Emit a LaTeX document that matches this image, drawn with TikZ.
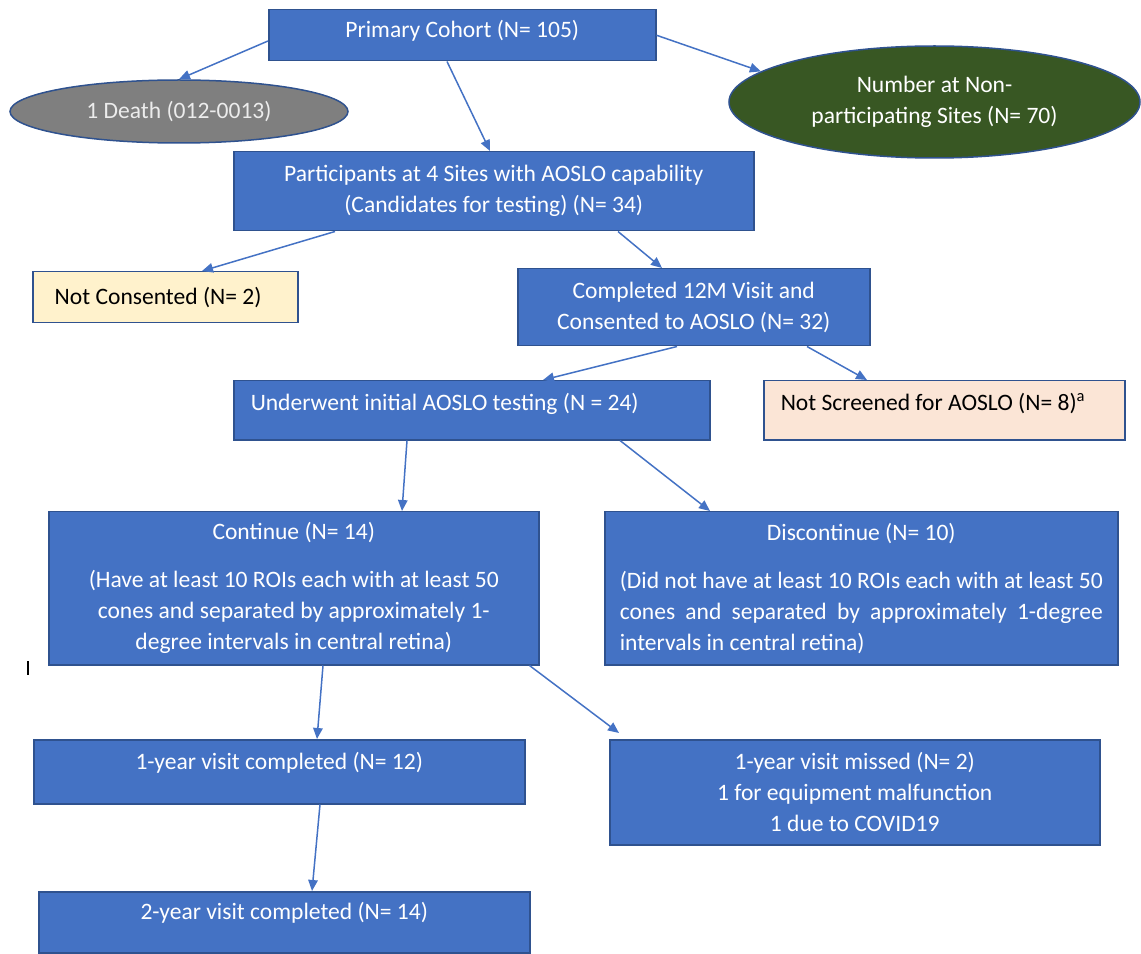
\documentclass[tikz,border=0pt]{standalone}
\usepackage{fontspec}
\setmainfont{Carlito}
\usepackage{xcolor}
\usetikzlibrary{arrows.meta,positioning,calc,shapes.geometric}
\definecolor{boxblue}{HTML}{4472C4}
\definecolor{edgeblue}{HTML}{2F528F}
\definecolor{deathgray}{HTML}{7F7F7F}
\definecolor{sitegreen}{HTML}{385723}
\definecolor{consyellow}{HTML}{FFF2CC}
\definecolor{scrpeach}{HTML}{FBE5D6}

\begin{document}
\begin{tikzpicture}[x=0.2mm,y=-0.2mm,
  font=\fontsize{13.4}{17.6}\selectfont,
  box/.style={draw=edgeblue,fill=boxblue,text=white,line width=0.3mm,align=center,
              anchor=north west,inner sep=0pt},
  note/.style={draw=edgeblue,line width=0.3mm,anchor=north west,align=flush left,
               inner sep=0pt,inner xsep=3.4mm},
  blob/.style={ellipse,draw=edgeblue,line width=0.3mm,text=white,align=center,inner sep=0pt},
  lifted/.style={text depth=#1},
  ar/.style={-{Triangle[length=2.2mm,width=1.9mm]},boxblue,line width=0.3mm}]
\useasboundingbox (0,0) rectangle (1141,954);
% top row
\node[box,lifted=7.8pt,minimum width=77.4mm,minimum height=10.2mm] (prim) at (268,9)
  {Primary Cohort (N= 105)};
\node[blob,fill=deathgray,text=gray!15,minimum width=67.6mm,minimum height=12.6mm] (death)
  at (179,111.5) {1 Death (012-0013)};
\node[blob,fill=sitegreen,minimum width=82.2mm,minimum height=22.4mm] (nonp)
  at (934.5,102) {Number at Non-\\participating Sites (N= 70)};
% screening
\node[box,minimum width=104mm,minimum height=15.8mm] (part) at (233,151)
  {Participants at 4 Sites with AOSLO capability\\(Candidates for testing) (N= 34)};
\node[note,fill=consyellow,inner xsep=4.4mm,text width=44.2mm,minimum height=10.2mm] (ncons)
  at (32,271) {Not Consented (N= 2)};
\node[box,align=flush left,lifted=10pt,inner xsep=3.4mm,text width=88.4mm,minimum height=11.8mm] (under)
  at (233,380) {Underwent initial AOSLO testing (N = 24)};
\node[box,minimum width=70.4mm,minimum height=15.4mm] (compl) at (517,268)
  {Completed 12M Visit and\\Consented to AOSLO (N= 32)};
\node[note,fill=scrpeach,lifted=9pt,text width=65.4mm,minimum height=11.8mm] (nscr)
  at (763,380) {Not Screened for AOSLO (N= 8)\textsuperscript{a}};
% outcome of testing
\node[box,minimum width=98mm,minimum height=30.6mm] (cont) at (48,511)
  {Continue (N= 14)\\[9.7pt](Have at least 10 ROIs each with at least 50\\
   cones and separated by approximately 1-\\degree intervals in central retina)};
\node[box,align=justify,inner xsep=3mm,text width=96.6mm,minimum height=30.6mm] (disc)
  at (604,511) {{\centering Discontinue (N= 10)\par}\vskip9.7pt\noindent
   (Did not have at least 10 ROIs each with at least 50\linebreak
   cones and separated by approximately 1-degree\linebreak
   intervals in central retina)};
% follow-up
\node[box,lifted=11.8pt,minimum width=98.2mm,minimum height=12.8mm] (yr1) at (33,739)
  {1-year visit completed (N= 12)};
\node[box,minimum width=98mm,minimum height=21mm] (miss) at (609,739)
  {1-year visit missed (N= 2)\\1 for equipment malfunction\\1 due to COVID19};
\node[box,lifted=13.5pt,minimum width=98.2mm,minimum height=12.2mm] (yr2) at (38,891)
  {2-year visit completed (N= 14)};
% connectors
\draw[ar] ($(prim.north west)+(0,32)$) -- (death.north);
\draw[ar] ($(prim.south west)+(179,0)$) -- ($(part.north west)+(257,0)$);
\draw[ar] (prim.east) -- (nonp.170);
\draw[ar] ($(part.south west)+(102,0)$) -- ($(ncons.north west)+(170,0)$);
\draw[ar] ($(part.south west)+(385,0)$) -- ($(compl.north west)+(145,0)$);
\draw[ar] ($(compl.south west)+(160,0)$) -- ($(under.north west)+(310,0)$);
\draw[ar] ($(compl.south west)+(290,0)$) -- ($(nscr.north west)+(104,0)$);
\draw[ar] ($(under.south west)+(174,0)$) -- ($(cont.north west)+(354,0)$);
\draw[ar] ($(under.south west)+(387,0)$) -- ($(disc.north west)+(106,0)$);
\draw[ar] ($(cont.south west)+(275,0)$) -- ($(yr1.north west)+(284,0)$);
\draw[ar] ($(cont.south east)+(-10,0)$) -- ($(miss.north west)+(10,-6)$);
\draw[ar] ($(yr1.south west)+(287,0)$) -- ($(yr2.north west)+(274,0)$);
% stray mark at the left
\draw[line width=0.45mm] (28,661) -- (28,675);
\end{tikzpicture}
\end{document}
